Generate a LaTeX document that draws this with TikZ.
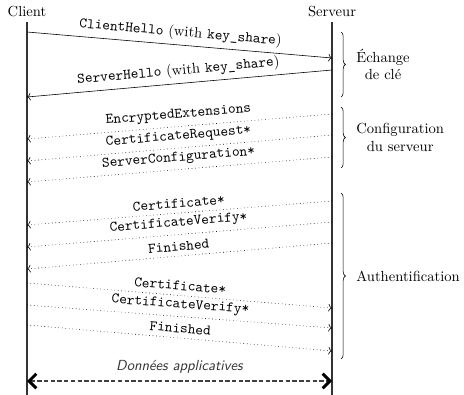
\documentclass[tikz,border=0pt]{standalone}
\usepackage{tikz}
\usetikzlibrary{arrows.meta,decorations.pathreplacing,positioning}

\tikzset{
  lifeline/.style={line width=1.4pt,black!80},
  msg/.style={->},
  optmsg/.style={->,dotted},
  datamsg/.style={arrows={Straight Barb[length=5pt,width=10pt,line width=2pt,color=black]-Straight Barb[length=5pt,width=10pt,line width=2pt,color=black]},
    line width=1.3pt,black!75,dash pattern=on 3pt off 1.6pt},
  lbl/.style={sloped,above,midway},
  phase/.style={decorate,decoration={brace,amplitude=3pt}},
  phaselbl/.style={right=7pt,align=center}
}

\begin{document}
\begin{tikzpicture}[>=To,x=0.685pt,y=-0.685pt]
		
		\useasboundingbox (0,0) rectangle (464,395);
		
		% Participants and lifelines
		\node (client) at (27,12) {Client};
		\node (serveur) at (332,12) {Serveur};
		\coordinate (client-end) at (27,395);
		\coordinate (serveur-end) at (332,395);
		\draw[lifeline] (client.south) -- (client-end);
		\draw[lifeline] (serveur.south) -- (serveur-end);
		
		% Key exchange
		\coordinate (ch-c) at (27,32);
		\coordinate (ch-s) at (332,58);
		\draw[msg] (ch-c) -- node[lbl] {\texttt{ClientHello} (with \texttt{key\_share})} (ch-s);
		\coordinate (sh-s) at (332,70);
		\coordinate (sh-c) at (27,97);
		\draw[msg] (sh-s) -- node[lbl] {\texttt{ServerHello} (with \texttt{key\_share})} (sh-c);
		
		% Server configuration
		\foreach \i/\ya/\yb/\txt in {1/114/139/EncryptedExtensions,
			2/135/161/CertificateRequest*, 3/157/182/ServerConfiguration*} {
			\coordinate (cfg-s\i) at (332,\ya);
			\coordinate (cfg-c\i) at (27,\yb);
			\draw[optmsg] (cfg-s\i) -- node[lbl] {\texttt{\txt}} (cfg-c\i);
		}
		
		% Authentication, server side
		\foreach \i/\ya/\yb/\txt in {1/201/225/Certificate*,
			2/222/247/CertificateVerify*, 3/243/269/Finished} {
			\coordinate (as-s\i) at (332,\ya);
			\coordinate (as-c\i) at (27,\yb);
			\draw[optmsg] (as-s\i) -- node[lbl] {\texttt{\txt}} (as-c\i);
		}
		
		% Authentication, client side
		\foreach \i/\ya/\yb/\txt in {1/283/308/Certificate*,
			2/305/328/CertificateVerify*, 3/325/351/Finished} {
			\coordinate (ac-c\i) at (27,\ya);
			\coordinate (ac-s\i) at (332,\yb);
			\draw[optmsg] (ac-c\i) -- node[lbl] {\texttt{\txt}} (ac-s\i);
		}
		
		% Application data
		\coordinate (data-c) at (27,381);
		\coordinate (data-s) at (332,381);
		\draw[datamsg] (data-c) -- node[above=1pt,black!80,font=\sffamily\itshape] {Données applicatives} (data-s);
		
		% Phases
		\coordinate (kx-top) at (341,32);
		\coordinate (kx-bot) at (341,97);
		\draw[phase] (kx-top) -- node[phaselbl] {Échange\\de clé} (kx-bot);
		\coordinate (cfg-top) at (341,107);
		\coordinate (cfg-bot) at (341,168);
		\draw[phase] (cfg-top) -- node[phaselbl] {Configuration\\du serveur} (cfg-bot);
		\coordinate (auth-top) at (341,193);
		\coordinate (auth-bot) at (341,359);
		\draw[phase] (auth-top) -- node[phaselbl] {Authentification} (auth-bot);
		
	\end{tikzpicture}
\end{document}
